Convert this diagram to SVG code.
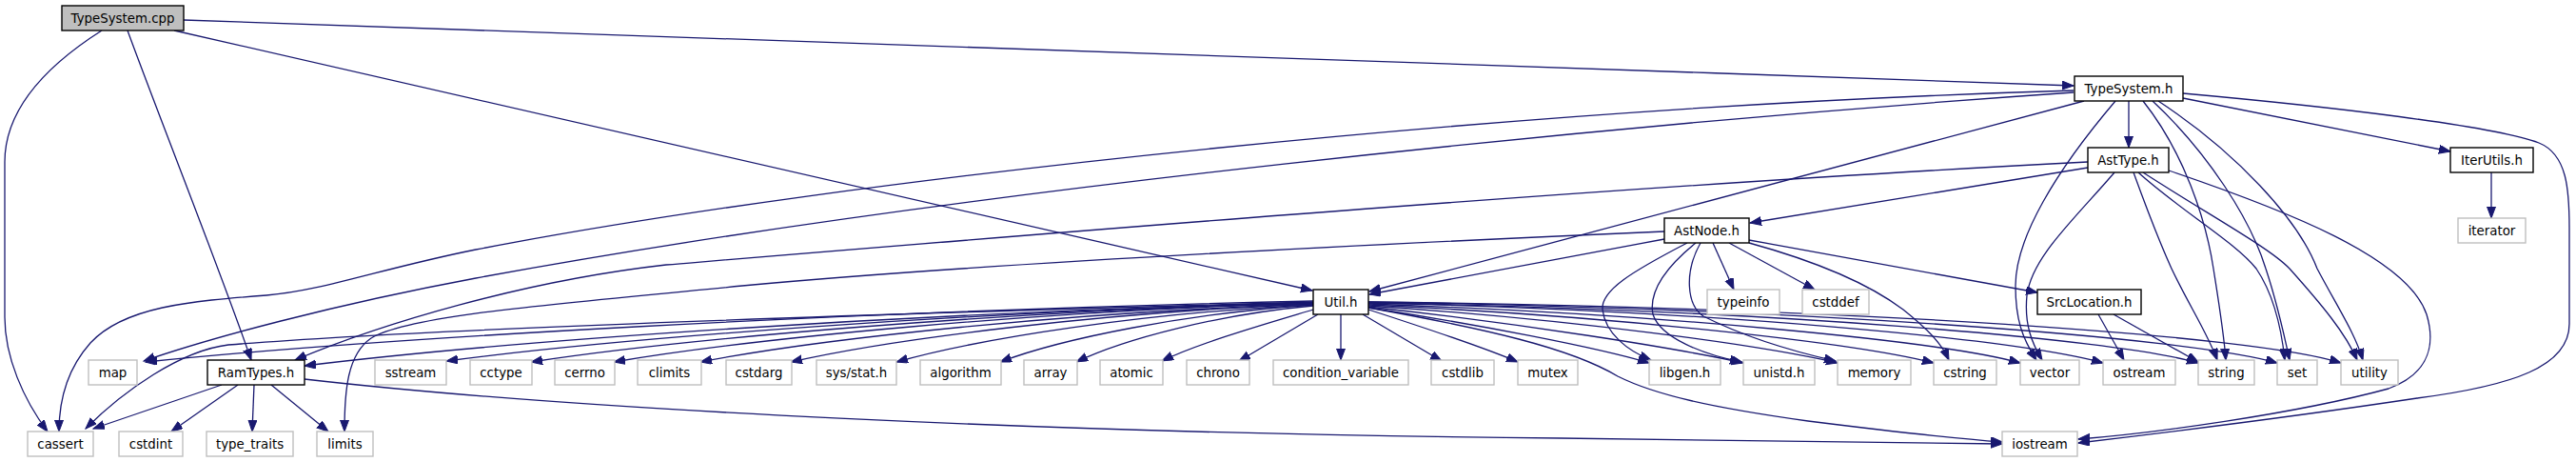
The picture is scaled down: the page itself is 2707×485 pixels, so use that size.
<svg xmlns="http://www.w3.org/2000/svg" width="2707" height="485" viewBox="0 0 2707 485">
<style>
.n rect{fill:#ffffff;stroke:#000000;stroke-width:1.4}
.s rect{fill:#ffffff;stroke:#bfbfbf;stroke-width:1.4}
.r rect{fill:#bfbfbf;stroke:#000000;stroke-width:1.4}
text{font-family:"DejaVu Sans","Liberation Sans",sans-serif;font-size:13.33px;fill:#000000;text-anchor:middle}
#edges path{fill:none;stroke:#191970;stroke-width:1.3;marker-end:url(#ah)}
</style>
<defs>
<marker id="ah" markerUnits="userSpaceOnUse" markerWidth="14" markerHeight="11" refX="12" refY="4.5" orient="auto">
<path d="M0,0 L12,4.5 L0,9 z" fill="#191970" stroke="#191970" stroke-width="1"/>
</marker>
</defs>
<rect x="0" y="0" width="2707" height="485" fill="#ffffff"/>
<g id="edges">
<path d="M193,21 C800,42 1500,66 2179,90"/>
<path d="M183,32 L1379,305"/>
<path d="M134,32 C170,130 230,280 264,378"/>
<path d="M107,32 C55,65 5,110 5,170 L5,333 C5,375 25,420 50,453"/>
<path d="M2237,106 L2237,155"/>
<path d="M2294,103 L2575,159"/>
<path d="M2618,181 L2618,229"/>
<path d="M2190,106 L1439,306"/>
<path d="M2179,95 C1600,112 900,185 500,262 C400,282 340,305 280,310 C200,316 130,322 95,360 C70,388 62,420 62,453"/>
<path d="M2179,97 C1700,130 1000,200 500,292 C350,320 220,355 151,379"/>
<path d="M2223,106 C2160,180 2118,250 2118,300 C2118,335 2125,355 2140,378"/>
<path d="M2252,106 C2295,160 2318,230 2326,282 C2332,320 2337,350 2339,378"/>
<path d="M2262,106 C2320,160 2365,230 2381,282 C2392,315 2400,350 2406,378"/>
<path d="M2268,106 C2350,160 2415,230 2435,282 C2455,320 2475,350 2483,378"/>
<path d="M2294,98 C2450,112 2620,132 2668,150 C2698,162 2700,200 2700,240 L2700,340 C2700,385 2640,405 2540,418 C2420,436 2260,456 2184,465"/>
<path d="M2194,176 L1839,234"/>
<path d="M2194,170 C1700,195 1100,245 700,278 C550,295 400,340 310,378"/>
<path d="M2222,181 C2180,230 2135,270 2130,310 C2127,340 2135,360 2146,378"/>
<path d="M2242,181 C2258,225 2272,260 2282,282 C2300,320 2320,350 2330,378"/>
<path d="M2247,181 C2290,220 2350,255 2371,282 C2390,310 2398,350 2401,378"/>
<path d="M2252,181 C2320,225 2385,260 2406,282 C2440,320 2465,350 2477,378"/>
<path d="M2279,179 C2400,220 2530,270 2550,330 C2562,370 2545,395 2510,408 C2410,435 2260,455 2184,461"/>
<path d="M1749,251 L1439,309"/>
<path d="M1749,243 C1450,256 1050,275 780,300 C600,318 430,330 390,355 C365,372 362,410 362,453"/>
<path d="M1800,255 L1822,304"/>
<path d="M1817,255 L1907,304"/>
<path d="M1838,252 L2141,307"/>
<path d="M1838,255 C1900,272 1960,295 2000,325 C2025,345 2040,360 2048,378"/>
<path d="M1773,255 C1715,285 1682,305 1684,325 C1687,350 1710,368 1735,378"/>
<path d="M1782,255 C1745,285 1733,310 1737,330 C1745,355 1790,372 1830,380"/>
<path d="M1787,255 C1770,285 1772,320 1790,332 C1830,352 1880,368 1929,379"/>
<path d="M2205,330 L2232,378"/>
<path d="M2221,330 L2310,380"/>
<path d="M233,404 L98,450"/>
<path d="M250,404 L180,453"/>
<path d="M267,404 L265,453"/>
<path d="M285,404 L345,453"/>
<path d="M320,398 C600,430 1100,455 1640,460 L2104,466"/>
<path d="M1380,316 C888,327 396,355 153,380"/>
<path d="M1380,317 C900,330 450,345 240,362 C190,368 130,410 90,450"/>
<path d="M1380,318 C956,328 532,358 320,384"/>
<path d="M1380,318 C1016,327 651,355 469,379"/>
<path d="M1380,318 C1051,327 722,355 558,380"/>
<path d="M1380,318 C1086,327 792,355 645,380"/>
<path d="M1380,319 C1122,328 865,355 736,380"/>
<path d="M1380,319 C1160,328 941,355 831,380"/>
<path d="M1380,320 C1205,328 1030,355 942,380"/>
<path d="M1380,320 C1248,329 1117,355 1051,380"/>
<path d="M1380,321 C1280,330 1181,356 1131,380"/>
<path d="M1380,325 C1330,340 1260,360 1221,379"/>
<path d="M1385,330 L1302,379"/>
<path d="M1409,330 L1409,378"/>
<path d="M1432,330 L1515,379"/>
<path d="M1438,325 C1500,345 1560,365 1595,380"/>
<path d="M1438,323 C1550,340 1680,365 1733,381"/>
<path d="M1438,322 C1600,340 1760,365 1832,381"/>
<path d="M1438,321 C1650,335 1850,362 1931,381"/>
<path d="M1438,320 C1700,332 1950,360 2032,381"/>
<path d="M1438,319 C1750,330 2040,358 2123,381"/>
<path d="M1438,318 C1800,326 2120,356 2210,381"/>
<path d="M1438,318 C1850,325 2220,355 2310,381"/>
<path d="M1438,317 C1900,324 2300,354 2393,381"/>
<path d="M1438,317 C1950,323 2370,352 2460,381"/>
<path d="M1438,323 C1560,345 1650,365 1700,395 C1740,415 1800,428 1900,442 C1980,452 2050,460 2104,464"/>
</g>
<g id="n_TypeSystem_cpp" class="r"><rect x="65" y="6" width="128" height="26"/><text x="129" y="23.5">TypeSystem.cpp</text></g>
<g id="n_TypeSystem_h" class="n"><rect x="2180" y="80" width="114" height="26"/><text x="2237" y="97.5">TypeSystem.h</text></g>
<g id="n_AstType_h" class="n"><rect x="2194" y="155" width="85" height="26"/><text x="2236.5" y="172.5">AstType.h</text></g>
<g id="n_IterUtils_h" class="n"><rect x="2575" y="155" width="87" height="26"/><text x="2618.5" y="172.5">IterUtils.h</text></g>
<g id="n_iterator" class="s"><rect x="2583" y="229" width="71" height="26"/><text x="2618.5" y="246.5">iterator</text></g>
<g id="n_AstNode_h" class="n"><rect x="1749" y="229" width="89" height="26"/><text x="1793.5" y="246.5">AstNode.h</text></g>
<g id="n_Util_h" class="n"><rect x="1380" y="304" width="58" height="26"/><text x="1409" y="321.5">Util.h</text></g>
<g id="n_typeinfo" class="s"><rect x="1794" y="304" width="76" height="26"/><text x="1832" y="321.5">typeinfo</text></g>
<g id="n_cstddef" class="s"><rect x="1894" y="304" width="70" height="26"/><text x="1929" y="321.5">cstddef</text></g>
<g id="n_SrcLocation_h" class="n"><rect x="2141" y="304" width="109" height="26"/><text x="2195.5" y="321.5">SrcLocation.h</text></g>
<g id="n_map" class="s"><rect x="93" y="378" width="51" height="26"/><text x="118.5" y="395.5">map</text></g>
<g id="n_RamTypes_h" class="n"><rect x="218" y="378" width="102" height="26"/><text x="269" y="395.5">RamTypes.h</text></g>
<g id="n_sstream" class="s"><rect x="394" y="378" width="75" height="26"/><text x="431.5" y="395.5">sstream</text></g>
<g id="n_cctype" class="s"><rect x="494" y="378" width="65" height="26"/><text x="526.5" y="395.5">cctype</text></g>
<g id="n_cerrno" class="s"><rect x="583" y="378" width="63" height="26"/><text x="614.5" y="395.5">cerrno</text></g>
<g id="n_climits" class="s"><rect x="670" y="378" width="67" height="26"/><text x="703.5" y="395.5">climits</text></g>
<g id="n_cstdarg" class="s"><rect x="763" y="378" width="69" height="26"/><text x="797.5" y="395.5">cstdarg</text></g>
<g id="n_sys_stat_h" class="s"><rect x="858" y="378" width="84" height="26"/><text x="900" y="395.5">sys/stat.h</text></g>
<g id="n_algorithm" class="s"><rect x="967" y="378" width="85" height="26"/><text x="1009.5" y="395.5">algorithm</text></g>
<g id="n_array" class="s"><rect x="1076" y="378" width="56" height="26"/><text x="1104" y="395.5">array</text></g>
<g id="n_atomic" class="s"><rect x="1156" y="378" width="66" height="26"/><text x="1189" y="395.5">atomic</text></g>
<g id="n_chrono" class="s"><rect x="1247" y="378" width="66" height="26"/><text x="1280" y="395.5">chrono</text></g>
<g id="n_condition_variable" class="s"><rect x="1338" y="378" width="142" height="26"/><text x="1409" y="395.5">condition_variable</text></g>
<g id="n_cstdlib" class="s"><rect x="1504" y="378" width="66" height="26"/><text x="1537" y="395.5">cstdlib</text></g>
<g id="n_mutex" class="s"><rect x="1595" y="378" width="63" height="26"/><text x="1626.5" y="395.5">mutex</text></g>
<g id="n_libgen_h" class="s"><rect x="1733" y="378" width="75" height="26"/><text x="1770.5" y="395.5">libgen.h</text></g>
<g id="n_unistd_h" class="s"><rect x="1832" y="378" width="75" height="26"/><text x="1869.5" y="395.5">unistd.h</text></g>
<g id="n_memory" class="s"><rect x="1931" y="378" width="77" height="26"/><text x="1969.5" y="395.5">memory</text></g>
<g id="n_cstring" class="s"><rect x="2032" y="378" width="66" height="26"/><text x="2065" y="395.5">cstring</text></g>
<g id="n_vector" class="s"><rect x="2123" y="378" width="62" height="26"/><text x="2154" y="395.5">vector</text></g>
<g id="n_ostream" class="s"><rect x="2210" y="378" width="76" height="26"/><text x="2248" y="395.5">ostream</text></g>
<g id="n_string" class="s"><rect x="2310" y="378" width="59" height="26"/><text x="2339.5" y="395.5">string</text></g>
<g id="n_set" class="s"><rect x="2393" y="378" width="42" height="26"/><text x="2414" y="395.5">set</text></g>
<g id="n_utility" class="s"><rect x="2460" y="378" width="60" height="26"/><text x="2490" y="395.5">utility</text></g>
<g id="n_cassert" class="s"><rect x="29" y="453" width="69" height="26"/><text x="63.5" y="470.5">cassert</text></g>
<g id="n_cstdint" class="s"><rect x="125" y="453" width="67" height="26"/><text x="158.5" y="470.5">cstdint</text></g>
<g id="n_type_traits" class="s"><rect x="217" y="453" width="91" height="26"/><text x="262.5" y="470.5">type_traits</text></g>
<g id="n_limits" class="s"><rect x="333" y="453" width="59" height="26"/><text x="362.5" y="470.5">limits</text></g>
<g id="n_iostream" class="s"><rect x="2104" y="453" width="79" height="26"/><text x="2143.5" y="470.5">iostream</text></g>
</svg>
